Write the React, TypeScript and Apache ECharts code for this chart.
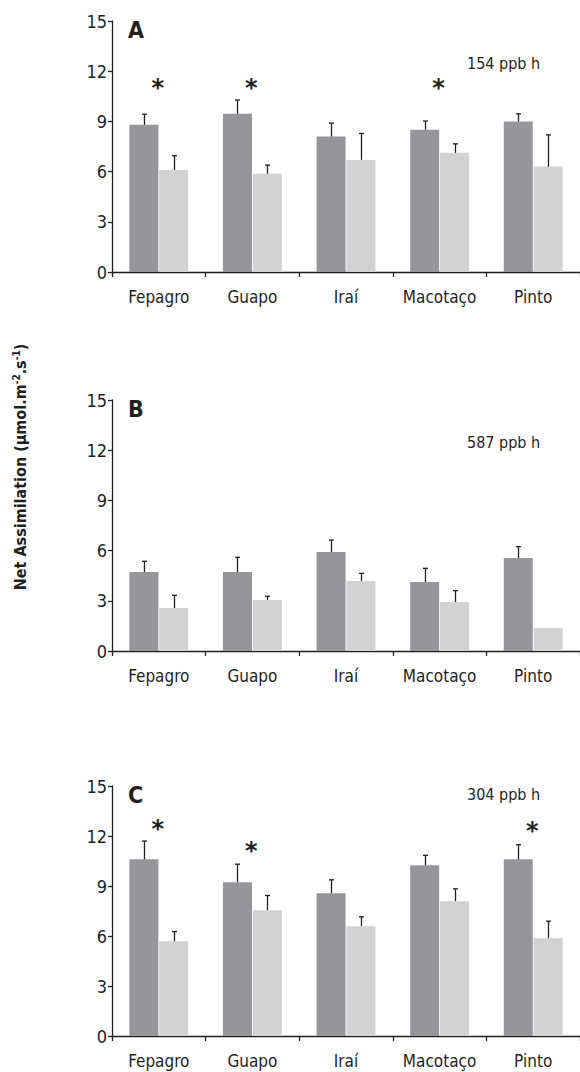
import React, { useEffect, useRef } from "react";
import * as echarts from "echarts";

const categories = ["Fepagro", "Guapo", "Iraí", "Macotaço", "Pinto"];
const yTicks = [0, 3, 6, 9, 12, 15];

const darkA = [8.8, 9.45, 8.1, 8.5, 9.0];
const darkAErr = [0.63, 0.83, 0.8, 0.52, 0.45];
const lightA = [6.1, 5.87, 6.7, 7.12, 6.3];
const lightAErr = [0.85, 0.52, 1.58, 0.54, 1.9];
const starsA = [11.3, 11.3, null, 11.3, null];

const darkB = [4.72, 4.72, 5.92, 4.12, 5.56];
const darkBErr = [0.64, 0.88, 0.71, 0.82, 0.68];
const lightB = [2.57, 3.05, 4.18, 2.93, 1.37];
const lightBErr = [0.76, 0.22, 0.46, 0.68, 0];
const starsB = [null, null, null, null, null];

const darkC = [10.6, 9.23, 8.57, 10.25, 10.6];
const darkCErr = [1.1, 1.08, 0.8, 0.59, 0.88];
const lightC = [5.69, 7.55, 6.59, 8.09, 5.87];
const lightCErr = [0.58, 0.88, 0.56, 0.74, 1.02];
const starsC = [12.7, 11.4, null, null, 12.6];

const panelLetters = ["A", "B", "C"];
const doseLabels = ["154 ppb h", "587 ppb h", "304 ppb h"];

const FONT = "'Liberation Sans Narrow', 'Arial Narrow', 'DejaVu Sans Condensed', sans-serif";
const DARK = "#959699";
const LIGHT = "#d1d2d4";
const INK = "#231f20";

const panels = [
  { dark: darkA, darkErr: darkAErr, light: lightA, lightErr: lightAErr, stars: starsA },
  { dark: darkB, darkErr: darkBErr, light: lightB, lightErr: lightBErr, stars: starsB },
  { dark: darkC, darkErr: darkCErr, light: lightC, lightErr: lightCErr, stars: starsC },
];

const gridTops = [21, 400, 786];
const gridHeights = [251, 251, 250];

function errSeries(k: number, vals: number[], errs: number[], offset: number) {
  return {
    type: "custom",
    xAxisIndex: k,
    yAxisIndex: k,
    data: vals.map((v, i) => [i, v, errs[i]]),
    renderItem: (params: any, api: any) => {
      const i = api.value(0);
      const v = api.value(1);
      const e = api.value(2);
      if (!e) return null;
      const b = api.coord([i, v]);
      const t = api.coord([i, v + e]);
      const x = Math.round(b[0] + offset) + 0.5;
      return {
        type: "group",
        children: [
          { type: "line", shape: { x1: x, y1: b[1], x2: x, y2: t[1] }, style: { stroke: INK, lineWidth: 1.3 } },
          { type: "line", shape: { x1: x - 2.5, y1: t[1], x2: x + 2.5, y2: t[1] }, style: { stroke: INK, lineWidth: 1.3 } },
        ],
      };
    },
    z: 5,
  };
}

function starSeries(k: number, stars: (number | null)[]) {
  return {
    type: "custom",
    xAxisIndex: k,
    yAxisIndex: k,
    data: stars.map((v, i) => (v == null ? null : [i, v])).filter((d) => d !== null),
    renderItem: (params: any, api: any) => {
      const p = api.coord([api.value(0), api.value(1)]);
      return {
        type: "text",
        x: p[0] - 1,
        y: p[1] + 5,
        style: {
          text: "*",
          fill: INK,
          font: "bold 24px 'DejaVu Sans', sans-serif",
          align: "center",
          verticalAlign: "middle",
        },
      };
    },
    z: 6,
  };
}

export default function App() {
  const ref = useRef<HTMLDivElement>(null);
  useEffect(() => {
    if (!ref.current) return;
    const chart = echarts.init(ref.current, undefined, { renderer: "svg" });
    const grid = gridTops.map((t, k) => ({ left: 112, top: t, width: 470, height: gridHeights[k] }));
    const xAxis = gridTops.map((_, k) => ({
      type: "category",
      gridIndex: k,
      data: categories,
      axisLine: { lineStyle: { color: INK, width: 1.3 } },
      axisTick: { show: true, length: 5, lineStyle: { color: INK, width: 1.3 } },
      axisLabel: { color: INK, fontFamily: FONT, fontSize: 17, margin: 16, interval: 0 },
      splitLine: { show: false },
    }));
    const yAxis = gridTops.map((_, k) => ({
      type: "value",
      gridIndex: k,
      min: yTicks[0],
      max: yTicks[yTicks.length - 1],
      interval: yTicks[1] - yTicks[0],
      axisLine: { show: true, lineStyle: { color: INK, width: 1.3 } },
      axisTick: { show: true, length: 4, lineStyle: { color: INK, width: 1.3 } },
      axisLabel: { color: INK, fontFamily: FONT, fontSize: 18, margin: 5 },
      splitLine: { show: false },
    }));
    const series: any[] = [];
    panels.forEach((p, k) => {
      series.push({
        type: "bar", xAxisIndex: k, yAxisIndex: k, data: p.dark, barWidth: 29, barGap: "3%",
        itemStyle: { color: DARK }, silent: true,
      });
      series.push({
        type: "bar", xAxisIndex: k, yAxisIndex: k, data: p.light, barWidth: 29, barGap: "3%",
        itemStyle: { color: LIGHT }, silent: true,
      });
      series.push(errSeries(k, p.dark, p.darkErr, -15));
      series.push(errSeries(k, p.light, p.lightErr, 15));
      series.push(starSeries(k, p.stars));
    });
    const graphic: any[] = [];
    gridTops.forEach((t, k) => {
      graphic.push({
        type: "text", left: 128, top: t - 3,
        style: { text: panelLetters[k], font: `bold 23px ${FONT}`, fill: INK },
      });
    });
    const doseY = [63, 442, 794];
    doseY.forEach((y, k) => {
      graphic.push({
        type: "text", x: 467, y,
        style: { text: doseLabels[k], font: `16px ${FONT}`, fill: INK, verticalAlign: "middle", align: "left" },
      });
    });
    graphic.push({
      type: "text",
      x: 20,
      y: 467,
      rotation: Math.PI / 2,
      style: {
        text: "{m|Net Assimilation (μmol.m}{s|-2}{m|.s}{s|-1}{m|)}",
        align: "center",
        verticalAlign: "middle",
        rich: {
          m: { font: `bold 16px ${FONT}`, fill: INK, color: INK },
          s: { font: `bold 10px ${FONT}`, fill: INK, color: INK, verticalAlign: "top", padding: [0, 0, 8, 0] },
        },
      },
    });
    chart.setOption({
      animation: false,
      backgroundColor: "#ffffff",
      grid,
      xAxis,
      yAxis,
      series,
      graphic,
    });
    return () => chart.dispose();
  }, []);
  return <div ref={ref} style={{ position: "absolute", left: 0, top: 0, width: 580, height: 1072 }} />;
}
